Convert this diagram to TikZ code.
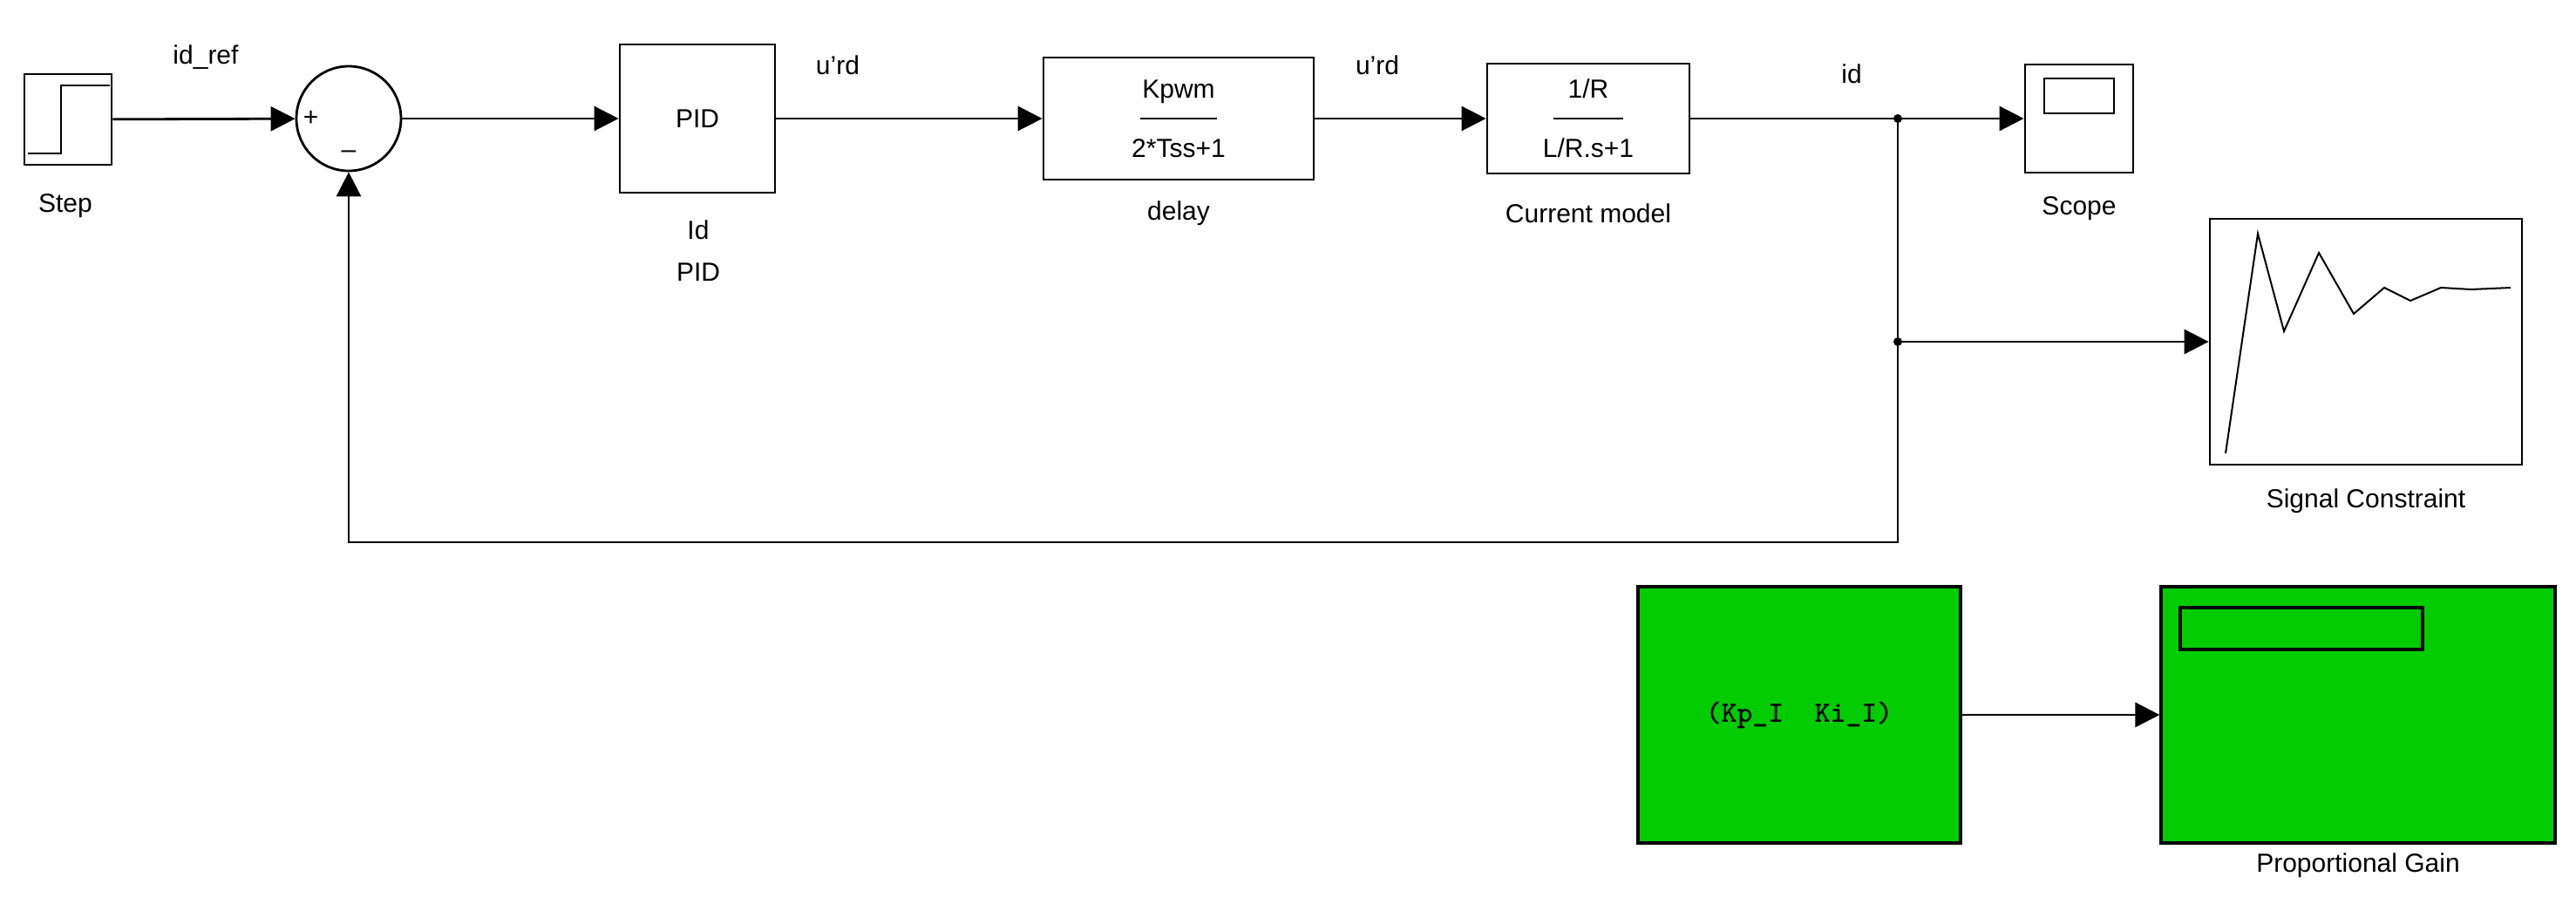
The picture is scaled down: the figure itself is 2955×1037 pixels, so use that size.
\documentclass[tikz,border=0pt]{standalone}
\usepackage{fontspec}
\setmainfont{Liberation Sans}
\usetikzlibrary{arrows.meta,positioning}
\definecolor{blockgreen}{RGB}{0,204,0}
\tikzset{
    blk/.style={draw,line width=1.4pt,fill=white,inner sep=0pt},
    sig/.style={line width=1.4pt,-{Triangle[length=14pt,width=14pt]}},
    wire/.style={line width=1.4pt},
    lbl/.style={font=\fontsize{15}{18}\selectfont},
}
\begin{document}
\begin{tikzpicture}[x=0.5pt,y=-0.5pt]
    \useasboundingbox (0,0) rectangle (2955,1037);
    \node[blk,minimum width=50pt,minimum height=52pt] (step) at (78,137) {};
    \draw[wire] (32,176) -- (70,176) -- (70,98) -- (126,98);
    \node[lbl] (steplbl) at (75,236) {Step};
    \node[draw,circle,line width=1.4pt,minimum size=60pt,inner sep=0pt] (sum) at (400,136) {};
    \node[font=\fontsize{15}{18}\selectfont] at ([xshift=9pt]sum.west) {+};
    \node[font=\fontsize{15}{18}\selectfont] at ([yshift=10pt]sum.south) {--};
    \node[blk,minimum width=89pt,minimum height=85pt,lbl] (pid) at (800,136) {PID};
    \node[lbl,align=center] (pidlbl) at (801,288) {Id\\[6pt]PID};
    \node[blk,minimum width=155pt,minimum height=70pt,lbl,align=center] (delay) at (1352,136) {Kpwm\\[16pt]2*Tss+1};
    \draw[line width=1pt] ([xshift=-22pt]delay.center) -- ([xshift=22pt]delay.center);
    \node[lbl] (delaylbl) at (1352,245) {delay};
    \node[blk,minimum width=116pt,minimum height=63pt,lbl,align=center] (cur) at (1822,136) {1/R\\[16pt]L/R.s+1};
    \draw[line width=1pt] ([xshift=-20pt]cur.center) -- ([xshift=20pt]cur.center);
    \node[lbl] (curlbl) at (1822,245) {Current model};
    \node[blk,minimum width=62pt,minimum height=62pt] (scope) at (2385,136) {};
    \node[draw,line width=1.2pt,minimum width=40pt,minimum height=20pt,anchor=north] at ([yshift=-8pt]scope.north) {};
    \node[lbl] (scopelbl) at (2385,239) {Scope};
    \node[blk,minimum width=179pt,minimum height=141pt] (sigc) at (2714,392) {};
    \draw[line width=1pt] (2553,520) -- (2590,268) -- (2620,380) -- (2660,290) -- (2700,360) -- (2735,330)
        -- (2765,345) -- (2800,330) -- (2835,332) -- (2880,330);
    \node[lbl] (sigclbl) at (2714,575) {Signal Constraint};
    \coordinate (split) at (2177,136);
    \coordinate (split2) at (2177,392);
    \fill (split) circle (2.5pt) (split2) circle (2.5pt);
    \draw[sig] (step) -- (sum);
    \draw[sig] (sum) -- (pid);
    \draw[sig] (pid) -- (delay);
    \draw[sig] (delay) -- (cur);
    \draw[sig] (cur) -- (scope);
    \draw[sig] (split2) -- (sigc.west |- split2);
    \draw[sig] (split) -- (2177,622) -| (sum.south);
    \node[lbl] at (236,66) {id\_ref};
    \node[lbl] at (961,75) {u'rd};
    \node[lbl] at (1580,75) {u'rd};
    \node[lbl] at (2124,85) {id};
    \node[draw,line width=1.6pt,fill=blockgreen,minimum width=185pt,minimum height=147pt,font=\ttfamily\bfseries\fontsize{17}{20}\selectfont] (gains) at (2064,820) {(Kp\_I\ \ Ki\_I)};
    \node[draw,line width=1.6pt,fill=blockgreen,minimum width=226pt,minimum height=147pt] (gain) at (2705,820) {};
    \node[draw,line width=1.6pt,fill=blockgreen,minimum width=139pt,minimum height=24pt,anchor=north west] at ([xshift=11pt,yshift=-12pt]gain.north west) {};
    \node[lbl] (gainlbl) at (2705,993) {Proportional Gain};
    \draw[sig] (gains) -- (gain);
\end{tikzpicture}
\end{document}
